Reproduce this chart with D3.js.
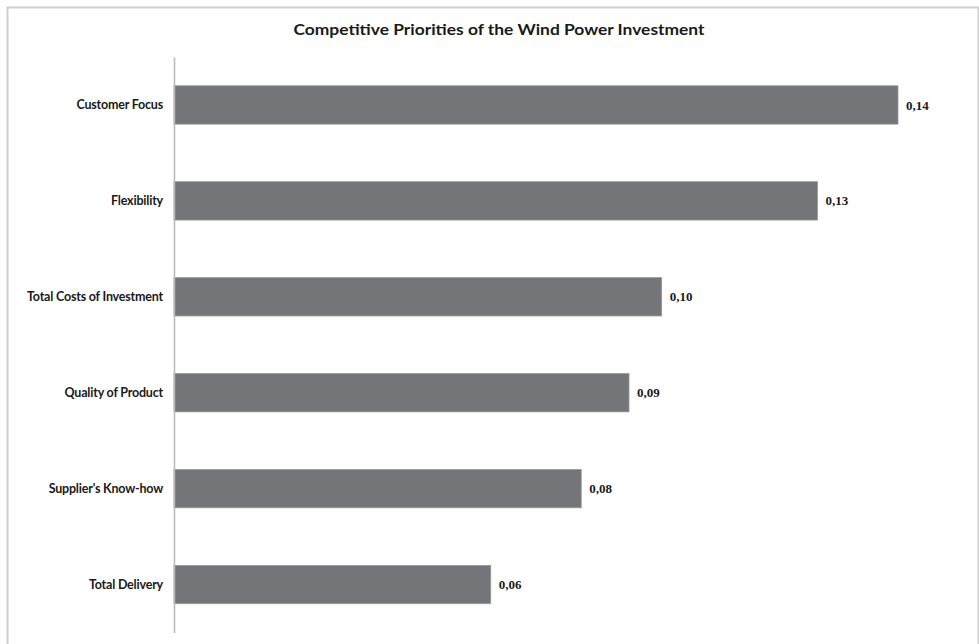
<!DOCTYPE html>
<html>
<head>
<meta charset="utf-8">
<script src="https://cdn.jsdelivr.net/npm/d3@7"></script>
<style>
  html, body { margin: 0; padding: 0; background: #fff; }
  svg { display: block; }
</style>
</head>
<body>
<svg id="chart" width="979" height="644"></svg>
<script>
// Priority weights per competitive factor (top to bottom)
const categories = [
  "Customer Focus",
  "Flexibility",
  "Total Costs of Investment",
  "Quality of Product",
  "Supplier's Know-how",
  "Total Delivery"
];
const weights = [0.144, 0.128, 0.097, 0.0905, 0.081, 0.063];
const chartTitle = "Competitive Priorities of the Wind Power Investment";

const svg = d3.select("#chart");
const W = 979, H = 644;

// outer frame
svg.append("rect")
  .attr("x", 7.5).attr("y", 7.5)
  .attr("width", W - 8).attr("height", H - 6)
  .attr("fill", "#fff")
  .attr("stroke", "#cfcfcf")
  .attr("stroke-width", 2);

const plot = { left: 174, right: 174 + 724, top: 57, bottom: 632.5 };

const x = d3.scaleLinear()
  .domain([0, weights[0]])
  .range([plot.left, plot.right]);

const y = d3.scaleBand()
  .domain(categories)
  .range([plot.top, plot.bottom])
  .paddingInner(0.6)
  .paddingOuter(0.3);

// title
svg.append("text")
  .attr("x", 499).attr("y", 35)
  .attr("text-anchor", "middle")
  .attr("font-family", "Lato, 'Open Sans', sans-serif")
  .attr("font-weight", 700)
  .attr("font-size", 15)
  .attr("fill", "#1a1a1a")
  .attr("textLength", 411)
  .attr("lengthAdjust", "spacingAndGlyphs")
  .text(chartTitle);

// bars
svg.append("g").selectAll("rect")
  .data(categories)
  .join("rect")
  .attr("x", plot.left)
  .attr("y", d => y(d))
  .attr("width", (d, i) => x(weights[i]) - plot.left)
  .attr("height", y.bandwidth())
  .attr("fill", "#747579")
  .attr("stroke", "#9a9a9e")
  .attr("stroke-width", 0.8);

// category axis
const axis = d3.axisLeft(y).tickSize(0).tickPadding(11);
const gAxis = svg.append("g")
  .attr("transform", `translate(${plot.left},0)`)
  .call(axis);
gAxis.select(".domain").attr("stroke", "#b8b8b8").attr("stroke-width", 1.5);
gAxis.selectAll("text")
  .attr("font-family", "Lato, 'Open Sans', sans-serif")
  .attr("font-weight", 700)
  .attr("font-size", 12.5)
  .attr("fill", "#1a1a1a")
  .attr("letter-spacing", "-0.2");

// value labels
const fmt = v => d3.format(".2f")(v).replace(".", ",");
svg.append("g").selectAll("text")
  .data(categories)
  .join("text")
  .attr("x", (d, i) => x(weights[i]) + 8)
  .attr("y", d => y(d) + y.bandwidth() / 2)
  .attr("dy", "0.35em")
  .attr("font-family", "'Liberation Serif', serif")
  .attr("font-weight", 700)
  .attr("font-size", 13)
  .attr("fill", "#1a1a1a")
  .text((d, i) => fmt(weights[i]));
</script>
</body>
</html>
